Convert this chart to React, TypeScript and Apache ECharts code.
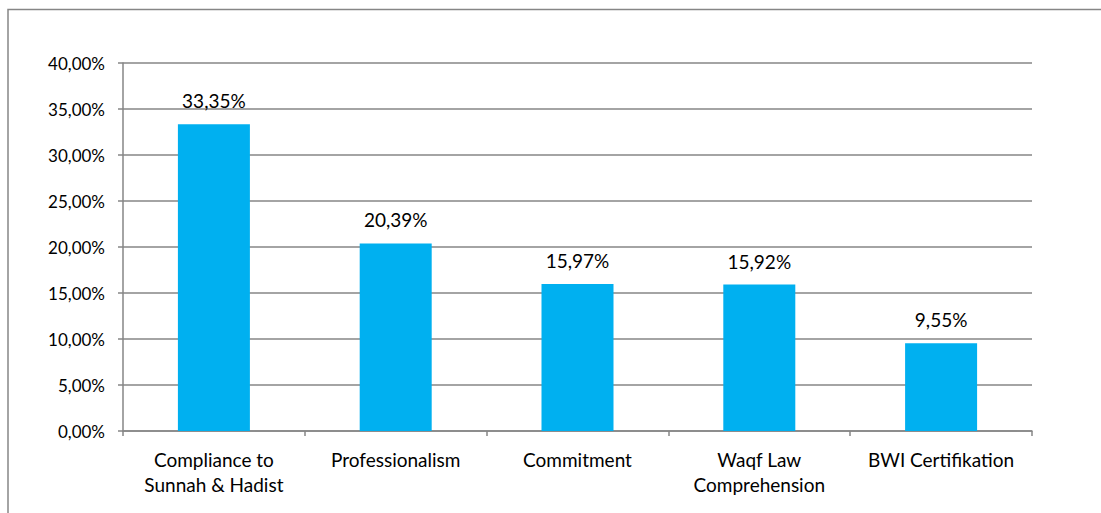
import React, { useEffect, useRef } from "react";
import * as echarts from "echarts";

const categories = [
  "Compliance to\nSunnah & Hadist",
  "Professionalism",
  "Commitment",
  "Waqf Law\nComprehension",
  "BWI Certifikation",
];
const values = [33.35, 20.39, 15.97, 15.92, 9.55];
const yTicks = { min: 0, max: 40, interval: 5 };

const fmt = (v: number) => v.toFixed(2).replace(".", ",") + "%";

export default function App() {
  const ref = useRef<HTMLDivElement>(null);
  useEffect(() => {
    if (!ref.current) return;
    const chart = echarts.init(ref.current, undefined, { renderer: "svg" });
    const font = "Lato, 'Noto Sans', sans-serif";
    chart.setOption({
      animation: false,
      backgroundColor: "#ffffff",
      textStyle: { fontFamily: font },
      graphic: [
        {
          type: "polyline",
          shape: { points: [[8, 520], [8, 9.5], [1110, 9.5]] },
          style: { fill: "none", stroke: "#868686", lineWidth: 1.5 },
          silent: true,
        },
      ],
      grid: { left: 123, right: 69, top: 63, bottom: 82 },
      xAxis: {
        type: "category",
        data: categories,
        axisLine: { lineStyle: { color: "#868686", width: 1.5 } },
        axisTick: { show: true, length: 5, alignWithLabel: false, lineStyle: { color: "#868686", width: 1.5 } },
        axisLabel: {
          color: "#000",
          fontSize: 19,
          fontFamily: font,
          lineHeight: 25,
          margin: 16,
          interval: 0,
        },
      },
      yAxis: {
        type: "value",
        min: yTicks.min,
        max: yTicks.max,
        interval: yTicks.interval,
        axisLine: { show: true, lineStyle: { color: "#868686", width: 1.5 } },
        axisTick: { show: true, length: 5, lineStyle: { color: "#868686", width: 1.5 } },
        splitLine: { show: true, lineStyle: { color: "#868686", width: 1.5 } },
        axisLabel: {
          color: "#000",
          fontSize: 17,
          fontFamily: font,
          margin: 18,
          formatter: (v: number) => fmt(v),
        },
      },
      series: [
        {
          type: "bar",
          data: values,
          barWidth: 72,
          itemStyle: { color: "#00B0F0" },
          label: {
            show: true,
            position: "top",
            distance: 14,
            color: "#000",
            fontSize: 19,
            fontFamily: font,
            formatter: (p: any) => fmt(p.value),
          },
        },
      ],
    });
    return () => chart.dispose();
  }, []);
  return (
    <div
      ref={ref}
      style={{ position: "fixed", left: 0, top: 0, width: 1101, height: 513 }}
    />
  );
}
